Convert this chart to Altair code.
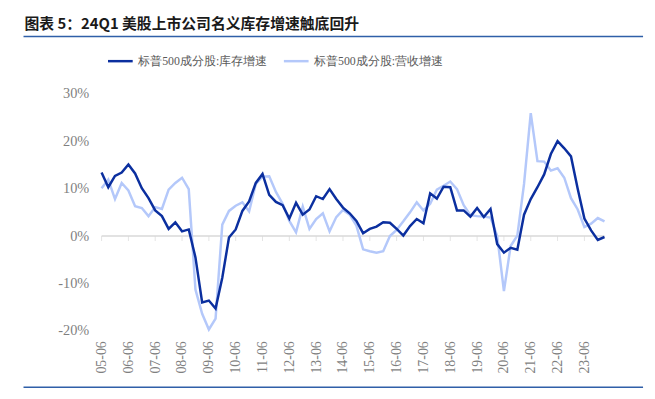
import altair as alt
import pandas as pd

# ---- data (quarterly, 2005Q2 .. 2024Q1, %) ----
inventory = [13.4, 10.3, 12.7, 13.4, 15.1, 13.2, 10.1, 8.0, 5.4, 4.2,
             1.5, 2.9, 1.0, 1.4, -4.5, -14.0, -13.6, -15.3, -8.8, -0.3,
             1.4, 5.3, 7.3, 11.2, 13.1, 8.7, 7.2, 6.5, 3.7, 7.0,
             4.5, 5.6, 8.4, 7.8, 9.9, 7.8, 6.0, 4.8, 3.2, 0.6,
             1.5, 2.0, 2.9, 2.8, 1.5, 0.1, 2.1, 3.6, 2.7, 9.0,
             7.9, 10.4, 10.3, 5.4, 5.4, 4.1, 5.9, 4.0, 5.7, -1.7,
             -3.5, -2.5, -2.9, 4.5, 7.8, 10.3, 13.0, 17.3, 20.0, 18.5,
             16.8, 10.0, 3.7, 1.2, -0.8, -0.2]
revenue = [10.1, 11.9, 7.8, 11.2, 9.6, 6.3, 5.9, 4.2, 6.1, 5.7,
           9.8, 11.2, 12.3, 9.9, -11.3, -16.4, -19.7, -17.4, 2.4, 5.3,
           6.4, 7.1, 5.2, 11.0, 12.5, 12.6, 9.3, 6.8, 3.2, 0.8,
           6.2, 1.5, 3.6, 4.8, 1.0, 4.0, 5.5, 4.5, 2.2, -2.8,
           -3.2, -3.5, -3.2, 0.0, 1.3, 3.1, 5.0, 7.1, 5.4, 6.8,
           9.8, 10.6, 11.5, 9.9, 6.5, 4.4, 4.2, 4.1, 3.9, 0.0,
           -11.6, -2.1, 0.1, 11.0, 25.9, 15.8, 15.7, 13.8, 14.3, 12.3,
           8.0, 5.6, 1.9, 2.6, 3.8, 3.1]
tick_labels = ["05-06", "06-06", "07-06", "08-06", "09-06", "10-06", "11-06",
               "12-06", "13-06", "14-06", "15-06", "16-06", "17-06", "18-06",
               "19-06", "20-06", "21-06", "22-06", "23-06"]
y_ticks = [-20, -10, 0, 10, 20, 30]
series_names = ["标普500成分股:库存增速", "标普500成分股:营收增速"]
colors = ["#0b2f9f", "#b4c8fa"]
title_text = "图表 5：24Q1 美股上市公司名义库存增速触底回升"

n = len(inventory)
df = pd.DataFrame({
    "i": list(range(n)) * 2,
    "v": inventory + revenue,
    "s": [series_names[0]] * n + [series_names[1]] * n,
})
tick_idx = [4 * k for k in range(len(tick_labels))]
tick_df = pd.DataFrame({"i": tick_idx, "v": [0] * len(tick_idx)})

serif = "Liberation Serif"
label_expr = "[" + ",".join(f"'{t}'" for t in tick_labels) + "][round(datum.value/4)]"

x_scale = alt.Scale(domain=[0, n - 1], nice=False, zero=False)
y_scale = alt.Scale(domain=[min(y_ticks), max(y_ticks)], nice=False)

x_axis = alt.Axis(values=tick_idx, labelExpr=label_expr, labelAngle=270,
                  labelFont=serif, labelFontSize=14, labelColor="#7f7f7f",
                  labelPadding=10, domain=False, ticks=False, grid=False,
                  title=None)
y_axis = alt.Axis(values=y_ticks, labelExpr="datum.value + '%'",
                  labelFont=serif, labelFontSize=14.5, labelColor="#7f7f7f",
                  labelPadding=13, domain=False, ticks=False, grid=False,
                  title=None)

color = alt.Color("s:N", scale=alt.Scale(domain=series_names, range=colors),
                  sort=series_names,
                  legend=alt.Legend(orient="none", direction="horizontal",
                                    legendX=5, legendY=-47, title=None,
                                    symbolType="stroke", symbolSize=625,
                                    symbolStrokeWidth=2.5, labelFont=serif,
                                    labelFontSize=12, labelColor="#595959",
                                    labelOffset=4, columnPadding=12,
                                    labelLimit=300))

zero = alt.Chart(pd.DataFrame({"v": [0]})).mark_rule(
    color="#d9d9d9", strokeWidth=1.5
).encode(y=alt.Y("v:Q", scale=y_scale, axis=y_axis))

ticks = alt.Chart(tick_df).mark_tick(
    orient="vertical", size=5, thickness=1, yOffset=2.5, color="#d9d9d9"
).encode(x=alt.X("i:Q", scale=x_scale, axis=x_axis),
         y=alt.Y("v:Q", scale=y_scale))

base = alt.Chart(df)
light = base.transform_filter(alt.datum.s == series_names[1]).mark_line(
    strokeWidth=2.5
).encode(x=alt.X("i:Q", scale=x_scale, axis=x_axis),
         y=alt.Y("v:Q", scale=y_scale, axis=y_axis),
         color=color)
dark = base.transform_filter(alt.datum.s == series_names[0]).mark_line(
    strokeWidth=2.5
).encode(x=alt.X("i:Q", scale=x_scale, axis=x_axis),
         y=alt.Y("v:Q", scale=y_scale, axis=y_axis),
         color=color)

title = alt.Chart(pd.DataFrame({"t": [title_text]})).mark_text(
    align="left", baseline="alphabetic", font="Noto Sans CJK SC",
    fontSize=15, fontWeight="bold", color="#1a1a1a"
).encode(x=alt.value(-78), y=alt.value(-66), text="t:N")

top_rule = alt.Chart(pd.DataFrame({"a": [0]})).mark_rule(
    color="#2f5fa8", strokeWidth=1.5
).encode(x=alt.value(-79), x2=alt.value(548), y=alt.value(-58))

bottom_rule = alt.Chart(pd.DataFrame({"a": [0]})).mark_rule(
    color="#2f5fa8", strokeWidth=1.5
).encode(x=alt.value(-79), x2=alt.value(548), y=alt.value(297))

chart = alt.layer(zero, ticks, light, dark, title, top_rule, bottom_rule).properties(
    width=509, height=240,
    padding={"left": 94.7, "top": 84.5, "right": 43, "bottom": 58},
    autosize="none",
).configure_view(stroke=None)

chart.save("out.html", embed_options={"renderer": "svg", "actions": False})
